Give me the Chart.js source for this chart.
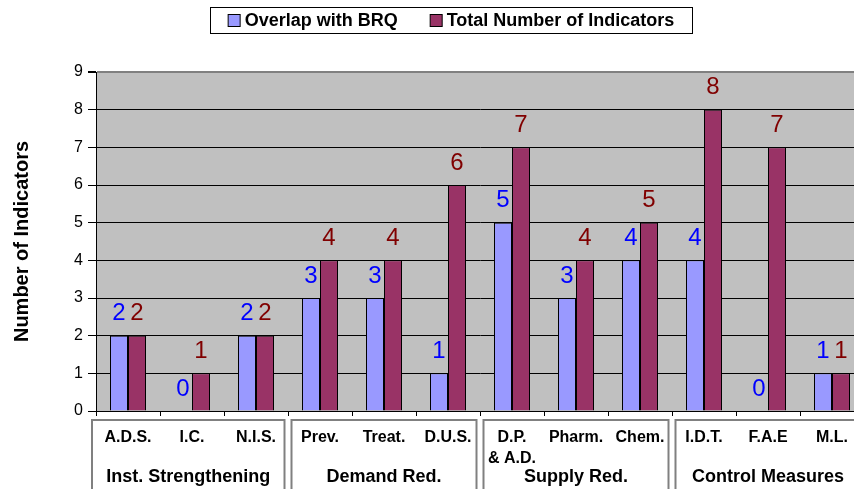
<!DOCTYPE html>
<html>
<head>
<meta charset="utf-8">
<script src="https://cdn.jsdelivr.net/npm/chart.js@4/dist/chart.umd.min.js"></script>
<style>
  html, body { margin: 0; padding: 0; background: #fff; overflow: hidden; }
  #wrap { position: relative; width: 866px; height: 489px; }
</style>
</head>
<body>
<div id="wrap"><canvas id="c"></canvas></div>
<script>
// ---- data ----
const categories = ['A.D.S.', 'I.C.', 'N.I.S.', 'Prev.', 'Treat.', 'D.U.S.', ['D.P.', '& A.D.'], 'Pharm.', 'Chem.', 'I.D.T.', 'F.A.E', 'M.L.'];
const overlapWithBRQ = [2, 0, 2, 3, 3, 1, 5, 3, 4, 4, 0, 1];
const totalIndicators = [2, 1, 2, 4, 4, 6, 7, 4, 5, 8, 7, 1];
const groupLabels = ['Inst. Strengthening', 'Demand Red.', 'Supply Red.', 'Control Measures'];
const groupSize = 3;
const seriesNames = ['Overlap with BRQ', 'Total Number of Indicators'];
const yTitle = 'Number of Indicators';

const FONT = "'Liberation Sans', Arial, Helvetica, sans-serif";
Chart.defaults.font.family = FONT;
Chart.defaults.color = '#000';

const bgPlugin = {
  id: 'plotBg',
  beforeDraw(chart) {
    const a = chart.chartArea, ctx = chart.ctx;
    ctx.save();
    ctx.fillStyle = '#C0C0C0';
    ctx.fillRect(a.left, a.top, a.right - a.left, a.bottom - a.top);
    ctx.restore();
  }
};

const valueLabels = {
  id: 'valueLabels',
  afterDatasetsDraw(chart) {
    const ctx = chart.ctx;
    const colors = ['#0000FF', '#800000'];
    ctx.save();
    ctx.font = '24px ' + FONT;
    ctx.textAlign = 'center';
    ctx.textBaseline = 'middle';
    chart.data.datasets.forEach((ds, di) => {
      const meta = chart.getDatasetMeta(di);
      meta.data.forEach((el, i) => {
        ctx.fillStyle = colors[di];
        ctx.fillText(String(ds.data[i]), el.x, el.y - 22);
      });
    });
    ctx.restore();
  }
};

const groupAxis = {
  id: 'groupAxis',
  afterDraw(chart) {
    const ctx = chart.ctx;
    const xs = chart.scales.x;
    const n = categories.length;
    const cw = (xs.getPixelForValue(1) - xs.getPixelForValue(0));
    ctx.save();
    ctx.strokeStyle = '#808080';
    ctx.lineWidth = 2;
    ctx.font = 'bold 18px ' + FONT;
    ctx.fillStyle = '#000';
    ctx.textAlign = 'center';
    ctx.textBaseline = 'middle';
    groupLabels.forEach((g, gi) => {
      const left = xs.getPixelForValue(gi * groupSize) - cw / 2;
      const right = xs.getPixelForValue(gi * groupSize + groupSize - 1) + cw / 2;
      const x0 = gi === 0 ? left - 4 : left + 3.5;
      const x1 = right - 3.5;
      ctx.strokeRect(x0, 420, x1 - x0, 100);
      ctx.fillText(g, (x0 + x1) / 2, 477);
    });
    ctx.restore();
  }
};

const boxLegend = {
  id: 'boxLegend',
  afterDraw(chart) {
    const ctx = chart.ctx;
    const ds = chart.data.datasets;
    ctx.save();
    ctx.font = 'bold 18px ' + FONT;
    const sw = 12, gapT = 5, gapItem = 32;
    let total = 0;
    const widths = ds.map(d => ctx.measureText(d.label).width);
    widths.forEach((w, i) => { total += sw + gapT + w + (i ? gapItem : 0); });
    const cx = 451, cy = 20;
    // outer box
    ctx.fillStyle = '#fff';
    ctx.fillRect(210.5, 7.5, 482, 26);
    ctx.strokeStyle = '#000';
    ctx.lineWidth = 1;
    ctx.strokeRect(210.5, 7.5, 482, 26);
    let x = cx - total / 2;
    ds.forEach((d, i) => {
      ctx.fillStyle = d.backgroundColor;
      ctx.fillRect(x + 0.5, cy - 6 + 0.5, sw, sw);
      ctx.strokeStyle = '#000';
      ctx.strokeRect(x + 0.5, cy - 6 + 0.5, sw, sw);
      ctx.fillStyle = '#000';
      ctx.textAlign = 'left';
      ctx.textBaseline = 'middle';
      ctx.fillText(d.label, x + sw + gapT, cy + 1);
      x += sw + gapT + widths[i] + gapItem;
    });
    ctx.restore();
  }
};

new Chart(document.getElementById('c'), {
  type: 'bar',
  data: {
    labels: categories,
    datasets: [
      { label: seriesNames[0], data: overlapWithBRQ, backgroundColor: '#9999FF', borderColor: '#000', borderWidth: 1, borderSkipped: 'bottom' },
      { label: seriesNames[1], data: totalIndicators, backgroundColor: '#993366', borderColor: '#000', borderWidth: 1, borderSkipped: 'bottom' }
    ]
  },
  options: {
    responsive: true,
    maintainAspectRatio: false,
    animation: false,
    devicePixelRatio: 1,
    layout: { padding: { top: 72, right: 2, bottom: 0, left: 0 } },
    datasets: { bar: { categoryPercentage: 0.5625, barPercentage: 1.0 } },
    plugins: {
      legend: { display: false },
      tooltip: { enabled: false }
    },
    scales: {
      x: {
        type: 'category',
        offset: true,
        grid: { offset: true, drawOnChartArea: false, drawTicks: true, tickLength: 5, tickColor: '#000', color: '#000' },
        border: { display: true, color: '#000', width: 1 },
        ticks: { font: { size: 16, weight: 'bold', lineHeight: 1.3 }, color: '#000', padding: 11, maxRotation: 0, minRotation: 0, autoSkip: false },
        afterFit(scale) { scale.height = 78; }
      },
      y: {
        min: 0, max: 9,
        ticks: { stepSize: 1, font: { size: 16 }, color: '#000', padding: 5 },
        grid: {
          color: (c) => (c.tick && c.tick.value === 9 ? '#808080' : '#000'),
          lineWidth: (c) => (c.tick && c.tick.value === 9 ? 2 : 1),
          tickLength: 8, tickColor: '#000', drawTicks: true
        },
        border: { display: true, color: '#000', width: 1 },
        title: { display: true, text: yTitle, font: { size: 20, weight: 'bold' }, color: '#000', padding: { top: 10, bottom: 0 } },
        afterFit(scale) { scale.width = 96; }
      }
    }
  },
  plugins: [bgPlugin, valueLabels, groupAxis, boxLegend]
});
</script>
</body>
</html>
